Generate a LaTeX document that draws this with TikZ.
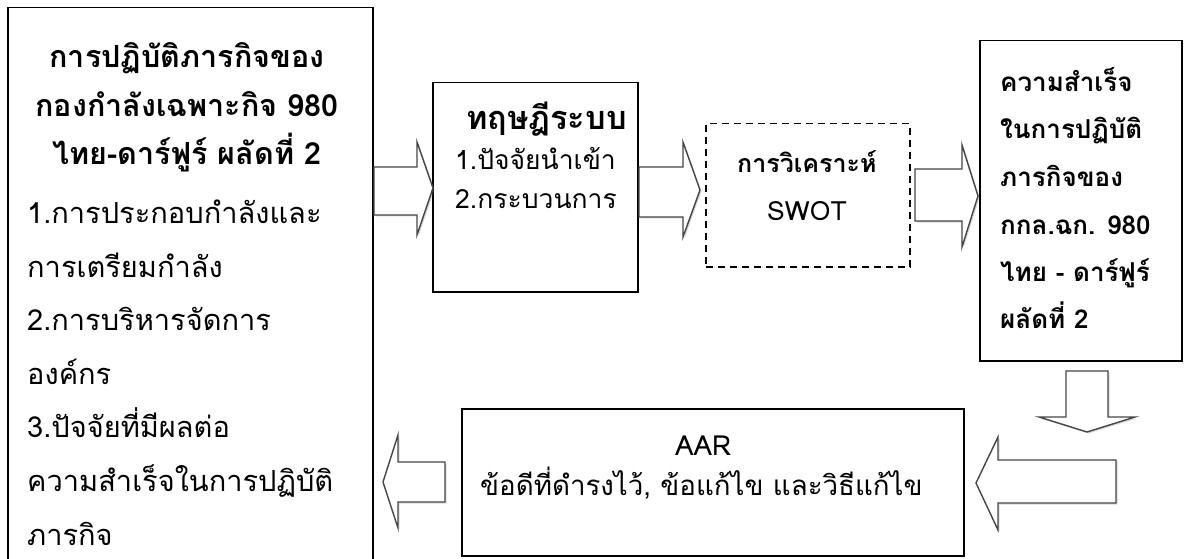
\documentclass[tikz,border=0pt]{standalone}
\usepackage{fontspec}
\setmainfont[Script=Thai]{Loma}
\usetikzlibrary{shadows}
\begin{document}
\begin{tikzpicture}[x=1pt,y=-1pt,
  box/.style={draw=black, line width=1.5pt, fill=white, inner sep=0pt},
  dbox/.style={box, dash pattern=on 7pt off 5pt},
  barrow/.style={draw=gray!55!black, line width=1.4pt, fill=white, line join=miter,
    drop shadow={shadow xshift=1.5pt, shadow yshift=-1.5pt, opacity=0.3, fill=gray}},
  ltxt/.style={inner sep=0pt, anchor=base west},
  ctxt/.style={inner sep=0pt, anchor=base},
  ftitle/.style={font=\fontsize{30.5}{36}\selectfont\bfseries},
  fbody/.style={font=\fontsize{29}{36}\selectfont},
  fthb/.style={font=\fontsize{32.5}{36}\selectfont\bfseries},
  fth/.style={font=\fontsize{26.5}{32}\selectfont},
  fswb/.style={font=\fontsize{25}{30}\selectfont\bfseries},
  fsw/.style={font=\fontsize{26.5}{30}\selectfont},
  fright/.style={font=\fontsize{26}{30}\selectfont\bfseries},
  faar/.style={font=\fontsize{27.7}{32}\selectfont},
]
\useasboundingbox[fill=white] (0,0) rectangle (1187,559);

% boxes
\node[box, anchor=north west, minimum width=365pt, minimum height=600pt] (left) at (7,7) {};
\node[box, anchor=north west, minimum width=205pt, minimum height=209pt] (theory) at (432,82) {};
\node[dbox, anchor=north west, minimum width=204pt, minimum height=143pt] (swot) at (705,123) {};
\node[box, anchor=north west, minimum width=202pt, minimum height=320pt] (succ) at (979,40) {};
\node[box, anchor=north west, minimum width=502pt, minimum height=147pt] (aar) at (461,408) {};

% block arrows
\draw[barrow] (374,167) -- (417,167) -- (417,142) -- (433,188) -- (417,235) -- (417,215) -- (374,215) -- cycle;
\draw[barrow] (639,167) -- (683,167) -- (683,142) -- (700,190) -- (683,237) -- (683,217) -- (639,217) -- cycle;
\draw[barrow] (915,169) -- (962,169) -- (962,145) -- (978,196) -- (962,247) -- (962,221) -- (915,221) -- cycle;
\draw[barrow] (1066,371) -- (1108,371) -- (1108,417) -- (1135,417) -- (1087,432) -- (1039,417) -- (1066,417) -- cycle;
\draw[barrow] (1116,460) -- (998,460) -- (998,437) -- (976,483) -- (998,530) -- (998,503) -- (1116,503) -- cycle;
\draw[barrow] (445,462) -- (398,462) -- (398,435) -- (383,482) -- (398,528) -- (398,502) -- (445,502) -- cycle;

% left box text
\node[ctxt, ftitle] (lt1) at (187,68) {การปฏิบัติภารกิจของ};
\node[ctxt, ftitle] (lt2) at (187,117) {กองกำลังเฉพาะกิจ 980};
\node[ctxt, ftitle] (lt3) at (187,165) {ไทย-ดาร์ฟูร์ ผลัดที่ 2};
\node[ltxt, fbody] (lb1) at (27,223) {1.การประกอบกำลังและ};
\node[ltxt, fbody] (lb2) at (27,277) {การเตรียมกำลัง};
\node[ltxt, fbody] (lb3) at (27,330) {2.การบริหารจัดการ};
\node[ltxt, fbody] (lb4) at (27,384) {องค์กร};
\node[ltxt, fbody] (lb5) at (27,437) {3.ปัจจัยที่มีผลต่อ};
\node[ltxt, fbody] (lb6) at (27,491) {ความสำเร็จในการปฏิบัติ};
\node[ltxt, fbody] (lb7) at (27,545) {ภารกิจ};

% theory box text
\node[ltxt, fthb] (th1) at (466,130) {ทฤษฎีระบบ};
\node[ltxt, fth] (th2) at (455,170) {1.ปัจจัยนำเข้า};
\node[ltxt, fth] (th3) at (455,208) {2.กระบวนการ};

% swot text
\node[ltxt, fswb] (sw1) at (737,173) {การวิเคราะห์};
\node[ltxt, fsw] (sw2) at (767,220) {SWOT};

% success box text
\node[ltxt, fright] (s1) at (1000,92) {ความสำเร็จ};
\node[ltxt, fright] (s2) at (1000,139) {ในการปฏิบัติ};
\node[ltxt, fright] (s3) at (1000,186) {ภารกิจของ};
\node[ltxt, fright] (s4) at (1000,234) {กกล.ฉก. 980};
\node[ltxt, fright] (s5) at (1000,281) {ไทย - ดาร์ฟูร์};
\node[ltxt, fright] (s6) at (1000,328) {ผลัดที่ 2};

% AAR text
\node[ltxt, faar] (a1) at (675,455) {AAR};
\node[ltxt, faar] (a2) at (480,495) {ข้อดีที่ดำรงไว้, ข้อแก้ไข และวิธีแก้ไข};
\end{tikzpicture}
\end{document}
